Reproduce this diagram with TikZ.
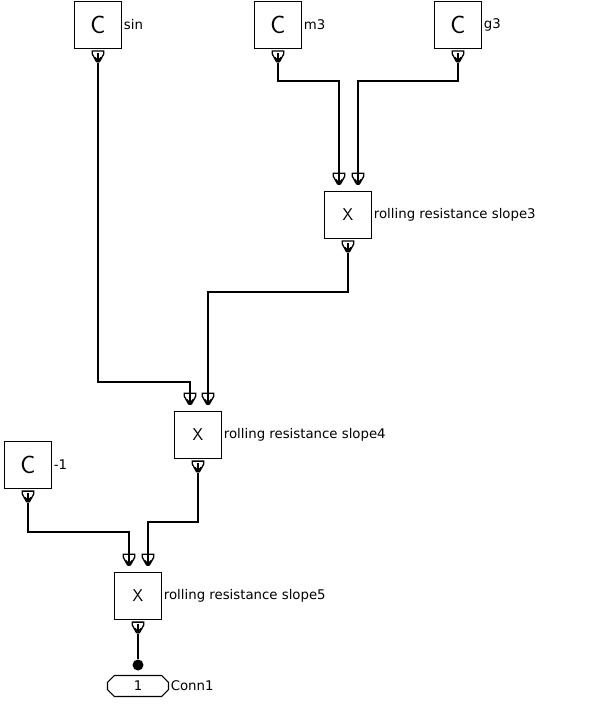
\documentclass[tikz,border=0pt]{standalone}
\usepackage{fontspec}
\newfontfamily\tagfont{DejaVu Sans}
\usetikzlibrary{shapes.geometric, shapes.misc, arrows, positioning}

\begin{document}
\begin{tikzpicture}[x=1pt, y=-1pt,
  block/.style={rectangle, draw=black, line width=1.4pt, minimum size=47pt, inner sep=0pt, font=\sffamily\fontsize{17}{17}\selectfont},
  const/.style={block, font=\sffamily\fontsize{25}{25}\selectfont},
  tag/.style={font=\tagfont\fontsize{13.3}{15}\selectfont, inner sep=1.5pt},
  port/.style={rectangle, draw=none, minimum width=13pt, minimum height=12pt, inner sep=0pt,
    path picture={
      \draw[line width=1.3pt] ([xshift=0.7pt,yshift=-0.7pt]path picture bounding box.north west) -- ([xshift=-0.7pt,yshift=-0.7pt]path picture bounding box.north east)
        -- ([xshift=-0.7pt,yshift=-3.5pt]path picture bounding box.north east) -- ([xshift=1.5pt,yshift=0.7pt]path picture bounding box.south)
        -- ([xshift=-1.5pt,yshift=0.7pt]path picture bounding box.south) -- ([xshift=0.7pt,yshift=-3.5pt]path picture bounding box.north west) -- cycle;
      \draw[line width=1.5pt] ([xshift=-3pt,yshift=5pt]path picture bounding box.south) -- ([yshift=1pt]path picture bounding box.south) -- ([xshift=3pt,yshift=5pt]path picture bounding box.south);
      \draw[line width=1.5pt] ([yshift=9pt]path picture bounding box.south) -- (path picture bounding box.south);}},
  line/.style={draw, line width=1.5pt}]
  \useasboundingbox (0,0) rectangle (604,708);

  % constants
  \node [const, label={[tag]east:sin}] (csin) at (98,25) {C};
  \node [const, label={[tag]east:m3}] (cm3) at (278,25) {C};
  \node [const, label={[tag]east:g3}] (cg3) at (458,25) {C};
  \node [const, label={[tag]east:-1}] (cneg) at (28,465) {C};

  % products
  \node [block, label={[tag]east:rolling resistance slope3}] (slope3) at (348,215) {X};
  \node [block, label={[tag]east:rolling resistance slope4}] (slope4) at (198,435) {X};
  \node [block, label={[tag]east:rolling resistance slope5}] (slope5) at (138,596) {X};

  % output ports
  \node [port, below=1pt of csin] (csin-out) {};
  \node [port, below=1pt of cm3] (cm3-out) {};
  \node [port, below=1pt of cg3] (cg3-out) {};
  \node [port, below=1pt of cneg] (cneg-out) {};
  \node [port, below=1pt of slope3] (slope3-out) {};
  \node [port, below=1pt of slope4] (slope4-out) {};
  \node [port, below=1pt of slope5] (slope5-out) {};

  % input ports
  \node [port, anchor=south] (slope3-in1) at ([xshift=-9pt,yshift=6pt]slope3.north) {};
  \node [port, anchor=south] (slope3-in2) at ([xshift=10pt,yshift=6pt]slope3.north) {};
  \node [port, anchor=south] (slope4-in1) at ([xshift=-8pt,yshift=6pt]slope4.north) {};
  \node [port, anchor=south] (slope4-in2) at ([xshift=10pt,yshift=6pt]slope4.north) {};
  \node [port, anchor=south] (slope5-in1) at ([xshift=-9pt,yshift=6pt]slope5.north) {};
  \node [port, anchor=south] (slope5-in2) at ([xshift=10pt,yshift=6pt]slope5.north) {};

  % connector
  \node [circle, fill=black, inner sep=0pt, minimum size=11pt] (dot) at (138,665) {};
  \node [chamfered rectangle, chamfered rectangle xsep=4pt, draw=black, line width=1.2pt, minimum width=61pt, minimum height=21pt, inner sep=0pt, font=\tagfont\fontsize{13.3}{15}\selectfont, label={[tag]east:Conn1}] (conn1) at (138,686) {1};

  % wires
  \path [line] (cm3-out.south) -- (cm3-out.south |- 0,81) -| (slope3-in1.south);
  \path [line] (cg3-out.south) -- (cg3-out.south |- 0,81) -| (slope3-in2.south);
  \path [line] (csin-out.south) -- (csin-out.south |- 0,382) -| (slope4-in1.south);
  \path [line] (slope3-out.south) -- (slope3-out.south |- 0,292) -| (slope4-in2.south);
  \path [line] (cneg-out.south) -- (cneg-out.south |- 0,532) -| (slope5-in1.south);
  \path [line] (slope4-out.south) -- (slope4-out.south |- 0,522) -| (slope5-in2.south);
  \path [line] (slope5-out.south) -- (dot);
\end{tikzpicture}
\end{document}
